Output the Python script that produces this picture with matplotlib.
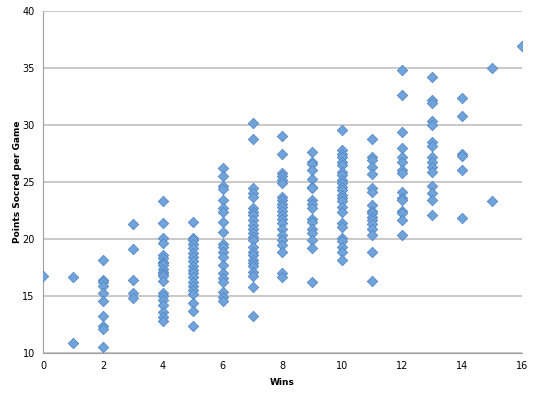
import matplotlib.pyplot as plt
import numpy as np

# wins -> points scored per game
pts_by_wins = {
    0: [16.8],
    1: [16.7, 10.9],
    2: [18.2, 16.4, 16.2, 15.9, 15.3, 14.6, 13.3, 12.4, 12.1, 10.5],
    3: [21.3, 19.1, 16.4, 15.3, 14.8],
    4: [23.3, 21.4, 20.1, 19.7, 18.6, 18.3, 18.0, 17.9, 17.7, 17.4, 17.1,
        16.9, 16.8, 16.3, 15.3, 15.0, 14.7, 14.2, 13.6, 13.2, 12.8],
    5: [21.5, 20.1, 19.9, 19.6, 19.2, 18.8, 18.45, 18.07, 17.66, 17.3, 17.0,
        16.7, 16.25, 15.9, 15.5, 15.2, 14.4, 13.7, 12.4],
    6: [26.25, 25.5, 24.7, 24.4, 23.4, 22.7, 22.4, 21.5, 20.6, 19.6, 19.3,
        18.9, 18.45, 17.7, 17.0, 16.55, 16.2, 15.4, 14.9, 14.55],
    7: [30.2, 28.8, 24.45, 24.0, 23.7, 22.7, 22.4, 22.1, 21.7, 21.2, 20.9,
        20.5, 20.2, 19.9, 19.3, 18.9, 18.6, 18.2, 17.9, 17.6, 17.1, 16.8,
        15.8, 13.3],
    8: [29.0, 27.5, 25.8, 25.5, 25.2, 24.9, 23.7, 23.4, 23.1, 22.8, 22.5,
        22.1, 21.8, 21.4, 20.9, 20.35, 19.9, 19.5, 18.9, 17.0, 16.7],
    9: [27.65, 26.8, 26.6, 26.05, 25.3, 24.6, 24.45, 23.4, 23.1, 22.7, 21.8,
        21.5, 20.9, 20.5, 19.9, 19.2, 16.25],
    10: [29.6, 27.8, 27.5, 27.2, 26.8, 26.5, 25.9, 25.6, 25.2, 24.9, 24.6,
         24.3, 23.9, 23.6, 23.3, 22.8, 22.4, 21.4, 21.1, 20.1, 19.8, 19.3,
         18.9, 18.2],
    11: [28.8, 27.2, 26.9, 26.3, 25.7, 24.45, 24.15, 23.0, 22.5, 22.25,
         21.95, 21.7, 21.3, 20.9, 20.35, 18.9, 16.35],
    12: [34.8, 32.6, 29.4, 27.95, 27.2, 26.8, 26.05, 25.8, 24.15, 23.6, 23.4,
         22.5, 22.25, 21.7, 20.35],
    13: [34.2, 32.2, 31.9, 30.4, 30.0, 28.5, 28.2, 27.2, 26.8, 26.35, 25.9,
         24.7, 24.0, 23.4, 22.1],
    14: [32.4, 30.8, 27.5, 27.3, 26.05, 21.85],
    15: [35.0, 23.3],
    16: [36.9],
}

wins = np.concatenate([[w] * len(v) for w, v in pts_by_wins.items()])
points = np.concatenate([v for v in pts_by_wins.values()])

x_ticks = [0, 2, 4, 6, 8, 10, 12, 14, 16]
y_ticks = [10, 15, 20, 25, 30, 35, 40]

fig = plt.figure(figsize=(5.38, 3.95), dpi=100)
ax = fig.add_axes([0.080, 0.106, 0.890, 0.866])

ax.scatter(wins, points, marker='D', s=28, facecolor='#71a3db',
           edgecolor='#5488c4', linewidth=0.6, zorder=3)

ax.set_xlim(0, 16)
ax.set_ylim(10, 40)
ax.set_xticks(x_ticks)
ax.set_yticks(y_ticks)
ax.yaxis.grid(True, color='#c0c0c0', linewidth=1.2)
ax.set_axisbelow(True)

for side in ['top', 'right']:
    ax.spines[side].set_visible(False)
for side in ['left', 'bottom']:
    ax.spines[side].set_color('#a0a0a0')
ax.tick_params(length=0, labelsize=7, pad=6)

ax.set_xlabel('Wins', fontsize=6.5, fontweight='bold', labelpad=5)
ax.set_ylabel('Points Socred per Game', fontsize=6.5, fontweight='bold', labelpad=0)

fig.savefig('out.png', dpi=100)
